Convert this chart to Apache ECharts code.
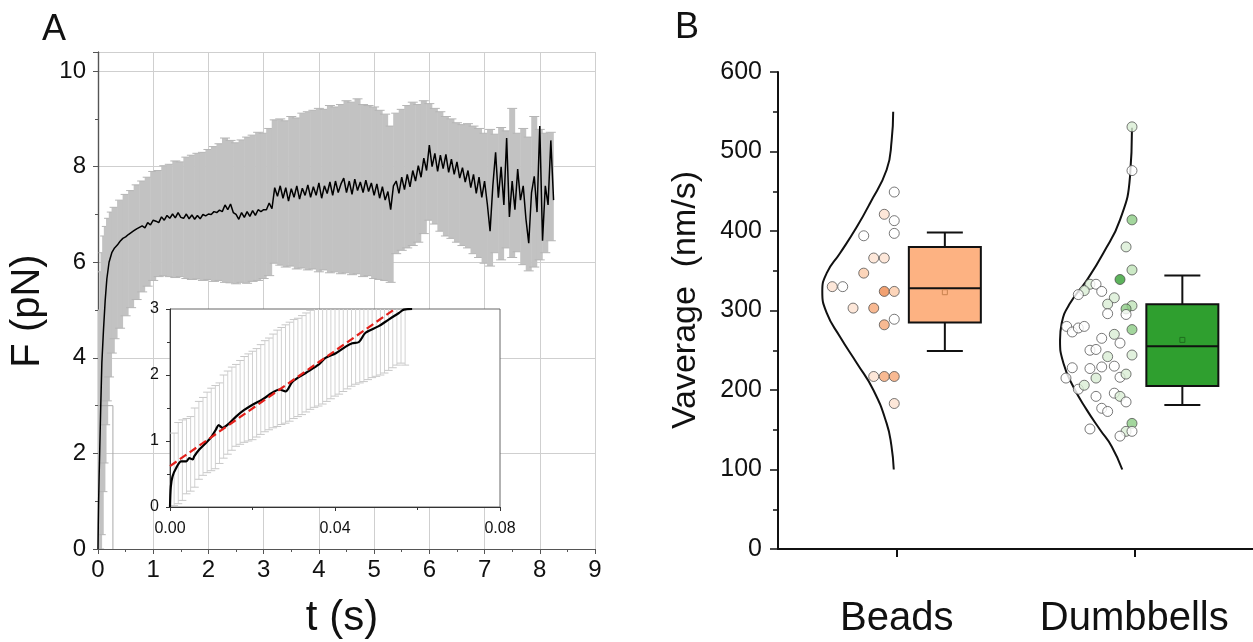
<!DOCTYPE html>
<html>
<head>
<meta charset="utf-8">
<script src="https://cdn.jsdelivr.net/npm/echarts@6.0.0/dist/echarts.min.js"></script>
<style>
  html, body { margin: 0; background: #fff; }
  #chart { width: 1253px; height: 642px; }
</style>
</head>
<body>
<div id="chart"></div>
<script>
// ---- panel A: mean force trace (s, pN) ----
const meanT = [0, 0.005, 0.01, 0.02, 0.03, 0.05, 0.07, 0.1, 0.13, 0.16, 0.2, 0.25,
  0.3, 0.35, 0.4, 0.45, 0.5, 0.55, 0.6, 0.65, 0.7, 0.75,
  0.8, 0.85, 0.9, 0.95, 1.0, 1.05, 1.1, 1.15, 1.2, 1.25,
  1.3, 1.35, 1.4, 1.45, 1.5, 1.55, 1.6, 1.65, 1.7, 1.75,
  1.8, 1.85, 1.9, 1.95, 2.0, 2.05, 2.1, 2.15, 2.2, 2.25,
  2.3, 2.35, 2.4, 2.45, 2.5, 2.55, 2.6, 2.65, 2.7, 2.75,
  2.8, 2.85, 2.9, 2.95, 3.0, 3.05, 3.1, 3.15, 3.2, 3.25,
  3.3, 3.35, 3.4, 3.45, 3.5, 3.55, 3.6, 3.65, 3.7, 3.75,
  3.8, 3.85, 3.9, 3.95, 4.0, 4.05, 4.1, 4.15, 4.2, 4.25,
  4.3, 4.35, 4.4, 4.45, 4.5, 4.55, 4.6, 4.65, 4.7, 4.75,
  4.8, 4.85, 4.9, 4.95, 5.0, 5.05, 5.1, 5.15, 5.2, 5.25,
  5.3, 5.35, 5.4, 5.45, 5.5, 5.55, 5.6, 5.65, 5.7, 5.75,
  5.8, 5.85, 5.9, 5.95, 6.0, 6.05, 6.1, 6.15, 6.2, 6.25,
  6.3, 6.35, 6.4, 6.45, 6.5, 6.55, 6.6, 6.65, 6.7, 6.75,
  6.8, 6.85, 6.9, 6.95, 7.0, 7.05, 7.1, 7.15, 7.2, 7.25,
  7.3, 7.35, 7.4, 7.45, 7.5, 7.55, 7.6, 7.65, 7.7, 7.75,
  7.8, 7.85, 7.9, 7.95, 8.0, 8.05, 8.1, 8.15, 8.2, 8.25]
const meanF = [0, 0.5, 0.9, 1.5, 2.0, 3.0, 3.9, 4.6, 5.2, 5.65, 6.0, 6.2,
  6.30, 6.36, 6.44, 6.50, 6.53, 6.58, 6.62, 6.66, 6.70, 6.73,
  6.76, 6.72, 6.83, 6.78, 6.88, 6.86, 6.83, 6.95, 6.88, 6.98,
  6.92, 7.01, 6.93, 7.04, 6.94, 6.92, 7.01, 6.91, 6.99, 6.90,
  6.98, 6.91, 7.00, 6.97, 7.01, 7.00, 7.06, 7.04, 7.09, 7.06,
  7.20, 7.10, 7.22, 7.04, 7.00, 6.90, 7.04, 6.94, 7.06, 6.96,
  7.08, 6.98, 7.10, 7.06, 7.10, 7.10, 7.24, 7.12, 7.56, 7.38,
  7.60, 7.34, 7.56, 7.28, 7.54, 7.36, 7.60, 7.32, 7.55, 7.40,
  7.62, 7.36, 7.58, 7.40, 7.66, 7.34, 7.60, 7.44, 7.68, 7.40,
  7.70, 7.46, 7.64, 7.76, 7.46, 7.70, 7.42, 7.74, 7.50, 7.68,
  7.46, 7.72, 7.48, 7.66, 7.40, 7.64, 7.34, 7.58, 7.30, 7.48,
  7.10, 7.60, 7.70, 7.44, 7.78, 7.52, 7.84, 7.58, 7.92, 7.70,
  8.02, 7.78, 8.18, 7.92, 8.45, 8.00, 8.28, 7.90, 8.24, 7.96,
  8.26, 7.88, 8.16, 7.84, 8.10, 7.76, 7.98, 7.68, 7.92, 7.56,
  7.84, 7.44, 7.78, 7.36, 7.70, 7.22, 6.65, 7.60, 8.30, 7.35,
  8.00, 7.20, 8.60, 6.95, 7.70, 7.10, 7.95, 7.30, 7.60, 6.90,
  6.40, 7.45, 7.80, 7.05, 8.85, 6.45, 7.60, 7.20, 8.55, 7.30]

// error bar ends (grey band)
const bandT = [0.02, 0.05, 0.08, 0.1, 0.13, 0.16, 0.2, 0.25,
  0.3, 0.4, 0.5, 0.6, 0.7, 0.8, 0.9, 1.0, 1.1, 1.2,
  1.3, 1.4, 1.5, 1.6, 1.7, 1.8, 1.9, 2.0, 2.1, 2.2,
  2.3, 2.4, 2.5, 2.6, 2.7, 2.8, 2.9, 3.0, 3.1, 3.2,
  3.3, 3.4, 3.5, 3.6, 3.7, 3.8, 3.9, 4.0, 4.1, 4.2,
  4.3, 4.4, 4.5, 4.6, 4.7, 4.8, 4.9, 5.0, 5.1, 5.2,
  5.3, 5.4, 5.5, 5.6, 5.7, 5.8, 5.9, 6.0, 6.1, 6.2,
  6.3, 6.4, 6.5, 6.6, 6.7, 6.8, 6.9, 7.0, 7.1, 7.2,
  7.3, 7.4, 7.5, 7.6, 7.7, 7.8, 7.9, 8.0, 8.1, 8.2]
const bandHi = [3.2, 5.0, 5.8, 6.2, 6.55, 6.75, 6.92, 7.05,
  7.15, 7.30, 7.42, 7.50, 7.62, 7.70, 7.78, 7.90, 7.92, 8.02,
  8.05, 8.12, 8.10, 8.20, 8.24, 8.28, 8.30, 8.36, 8.42, 8.48,
  8.60, 8.55, 8.50, 8.56, 8.62, 8.66, 8.72, 8.70, 8.80, 8.98,
  9.00, 8.96, 9.05, 9.02, 9.12, 9.15, 9.18, 9.22, 9.20, 9.28,
  9.25, 9.30, 9.38, 9.35, 9.42, 9.30, 9.28, 9.25, 9.18, 9.10,
  8.85, 9.12, 9.20, 9.28, 9.35, 9.30, 9.38, 9.32, 9.22, 9.15,
  9.05, 9.00, 8.92, 8.88, 8.90, 8.85, 8.80, 8.70, 8.78, 8.68,
  8.82, 8.75, 9.22, 8.70, 8.80, 8.62, 9.05, 8.78, 8.70, 8.72]
const bandLo = [0, 0.3, 1.2, 1.8, 2.6, 3.1, 3.6, 4.1,
  4.40, 4.62, 4.88, 5.05, 5.22, 5.38, 5.50, 5.62, 5.70, 5.72,
  5.70, 5.68, 5.70, 5.66, 5.64, 5.65, 5.62, 5.64, 5.60, 5.62,
  5.58, 5.57, 5.55, 5.58, 5.56, 5.60, 5.62, 5.66, 5.72, 5.98,
  5.94, 5.90, 5.92, 5.86, 5.88, 5.84, 5.86, 5.80, 5.84, 5.78,
  5.80, 5.76, 5.78, 5.74, 5.76, 5.70, 5.72, 5.66, 5.64, 5.62,
  5.58, 6.18, 6.25, 6.30, 6.35, 6.42, 6.60, 6.88, 6.80, 6.65,
  6.55, 6.50, 6.42, 6.35, 6.30, 6.18, 6.10, 5.98, 5.92, 6.20,
  6.05, 6.30, 6.10, 6.22, 5.95, 5.82, 5.90, 6.05, 6.20, 6.45]

// outline of the zoomed region shown in the inset
const zoomBoxT = [0, 0.27, 0.27]
const zoomBoxF = [3, 3, 0]

// ---- inset: first 0.06 s ----
const insetT = [0, 0.0002, 0.0006, 0.0015, 0.0027, 0.0039, 0.0047, 0.0055, 0.0059, 0.0071,
  0.0087, 0.0099, 0.0111, 0.0118, 0.0127, 0.0144, 0.016, 0.018, 0.02, 0.0224,
  0.0248, 0.0265, 0.028, 0.0297, 0.0329, 0.0361, 0.0377, 0.0402, 0.0426, 0.0442,
  0.0458, 0.0474, 0.0506, 0.053, 0.0555, 0.0567, 0.0587]
const insetF = [0, 0.31, 0.46, 0.59, 0.69, 0.69, 0.74, 0.72, 0.77, 0.87,
  0.97, 1.05, 1.17, 1.24, 1.20, 1.27, 1.37, 1.47, 1.55, 1.63,
  1.73, 1.78, 1.75, 1.90, 2.03, 2.16, 2.26, 2.33, 2.43, 2.48,
  2.50, 2.64, 2.74, 2.84, 2.94, 2.99, 3.0]
const fitT = [0, 0.0545]
const fitF = [0.62, 3.0]
const insetBarT = [0.001, 0.002, 0.003, 0.004, 0.005, 0.006, 0.007, 0.008, 0.009, 0.010,
  0.011, 0.012, 0.013, 0.014, 0.015, 0.016, 0.017, 0.018, 0.019, 0.020,
  0.021, 0.022, 0.023, 0.024, 0.025, 0.026, 0.027, 0.028, 0.029, 0.030,
  0.031, 0.032, 0.033, 0.034, 0.035, 0.036, 0.037, 0.038, 0.039, 0.040,
  0.041, 0.042, 0.043, 0.044, 0.045, 0.046, 0.047, 0.048, 0.049, 0.050,
  0.051, 0.052, 0.053, 0.054, 0.055, 0.056, 0.057]
const insetBarHi = [1.12, 1.28, 1.32, 1.34, 1.37, 1.50, 1.60, 1.66, 1.74, 1.80,
  1.84, 1.88, 2.00, 2.06, 2.12, 2.16, 2.22, 2.28, 2.32, 2.36,
  2.40, 2.46, 2.52, 2.56, 2.62, 2.68, 2.72, 2.76, 2.80, 2.84,
  2.86, 2.90, 2.94, 2.98, 3.02, 3.06, 3.10, 3.14, 3.18, 3.22,
  3.26, 3.30, 3.34, 3.38, 3.42, 3.46, 3.50, 3.54, 3.58, 3.62,
  3.66, 3.70, 3.74, 3.78, 3.82, 3.86, 3.84]
const insetBarLo = [0.02, 0.05, 0.10, 0.20, 0.24, 0.30, 0.42, 0.48, 0.52, 0.55,
  0.58, 0.66, 0.74, 0.80, 0.86, 0.92, 0.95, 0.98, 1.00, 1.02,
  1.06, 1.10, 1.14, 1.17, 1.20, 1.22, 1.25, 1.27, 1.30, 1.34,
  1.37, 1.40, 1.44, 1.48, 1.51, 1.53, 1.56, 1.60, 1.64, 1.68,
  1.71, 1.75, 1.79, 1.83, 1.86, 1.88, 1.90, 1.93, 1.96, 1.98,
  2.00, 2.03, 2.07, 2.11, 2.15, 2.18, 2.15]

// ---- panel B: velocities (nm/s) ----
const groups = ['Beads', 'Dumbbells']
const groupPos = [1, 3]
// jittered x position, value, shade level (0 = white .. 4 = darkest)
const beadsX = [0.979, 0.895, 0.979, 0.979, 0.722, 0.806, 0.895, 0.722, 0.457, 0.545,
  0.895, 0.979, 0.632, 0.806, 0.979, 0.895, 0.806, 0.895, 0.979, 0.979]
const beadsV = [449, 421, 413, 397, 394, 366, 366, 347, 330, 330,
  324, 324, 303, 303, 289, 282, 217, 217, 217, 183]
const beadsShade = [0, 1, 0, 0, 0, 1, 1, 2, 1, 0, 4, 2, 1, 3, 0, 3, 1, 3, 3, 1]
const dumbX = [2.981, 2.981, 2.981, 2.931, 2.981, 2.880, 2.627, 2.678, 2.579, 2.529,
  2.726, 2.832, 2.776, 2.981, 2.931, 2.776, 2.931, 2.981, 2.431, 2.478,
  2.529, 2.579, 2.832, 2.726, 2.880, 2.627, 2.678, 2.776, 2.981, 2.478,
  2.627, 2.726, 2.832, 2.425, 2.678, 2.880, 2.931, 2.529, 2.579, 2.678,
  2.832, 2.880, 2.931, 2.726, 2.776, 2.627, 2.981, 2.931, 2.981, 2.880]
const dumbV = [531, 476, 414, 380, 351, 339, 333, 333, 325, 320,
  324, 316, 308, 306, 302, 296, 295, 276, 280, 273,
  278, 280, 270, 265, 259, 250, 251, 242, 244, 228,
  227, 229, 230, 215, 215, 216, 220, 201, 206, 192,
  196, 192, 185, 177, 173, 151, 158, 148, 148, 142]
const dumbShade = [1, 0, 3, 1, 2, 4, 1, 0, 1, 0,
  0, 1, 1, 2, 3, 0, 0, 3, 0, 0,
  0, 0, 1, 0, 0, 0, 0, 1, 1, 0,
  0, 0, 0, 0, 1, 0, 1, 0, 1, 0,
  0, 1, 0, 0, 0, 0, 3, 1, 0, 0]

// normal-distribution outlines (value, x position)
const beadsCurveV = [550, 514, 477, 435, 405, 372, 347, 324, 297, 267, 234, 200, 158, 130, 100]
const beadsCurveX = [0.970, 0.957, 0.915, 0.775, 0.663, 0.522, 0.410, 0.373, 0.410, 0.522, 0.663, 0.803, 0.915, 0.955, 0.975]
const dumbCurveV = [530, 468, 414, 372, 338, 309, 284, 263, 234, 204, 175, 150, 129, 100]
const dumbCurveX = [2.981, 2.964, 2.880, 2.739, 2.600, 2.459, 2.389, 2.375, 2.403, 2.487, 2.600, 2.712, 2.810, 2.899]

// box stats: [whisker low, Q1, median, Q3, whisker high, mean]
const beadsBox = [249, 285, 328, 380, 398, 323]
const dumbBox = [181, 205, 255, 308, 344, 263]
const boxPos = [1.405, 3.405]

const beadsPalette = ['#ffffff', '#fde1cf', '#fbcaa9', '#f6a777', '#ee8a4f']
const dumbPalette = ['#ffffff', '#d9eed4', '#bfe3b8', '#8ccc84', '#35a033']
const boxFill = ['#fdb282', '#2f9f2f']
const boxMeanStroke = ['#c8824f', '#1f6f1f']

const FONT = '"Liberation Sans", Arial, sans-serif'
const chart = echarts.init(document.getElementById('chart'), null, { renderer: 'canvas' })

const zip = (a, b) => a.map((v, i) => [v, b[i]])

const frameAxis = {
  axisLine: { lineStyle: { color: '#555', width: 1.2 } },
  splitLine: { show: false },
}

chart.setOption({
  backgroundColor: '#fff',
  animation: false,
  textStyle: { fontFamily: FONT },
  grid: [
    { left: 98, top: 52, width: 497, height: 497 },
    { left: 170, top: 309, width: 330, height: 198, show: true, z: 10,
      backgroundColor: '#fff', borderColor: '#666', borderWidth: 1 },
    { left: 778, top: 72, width: 475, height: 477 },
  ],
  xAxis: [
    { gridIndex: 0, type: 'value', min: 0, max: 9, interval: 1, ...frameAxis,
      axisTick: { inside: false, length: 5, lineStyle: { color: '#555' } },
      minorTick: { show: true, splitNumber: 2, length: 3, lineStyle: { color: '#555' } },
      splitLine: { show: true, lineStyle: { color: '#cfcfcf', width: 1 } },
      axisLabel: { fontSize: 24, color: '#111', margin: 9, fontFamily: FONT } },
    { gridIndex: 0, type: 'value', position: 'top', min: 0, max: 9, interval: 1, ...frameAxis,
      axisTick: { inside: true, length: 5, lineStyle: { color: '#555' } },
      minorTick: { show: true, splitNumber: 2, length: 3, lineStyle: { color: '#555' } },
      axisLabel: { show: false } },
    { gridIndex: 1, type: 'value', min: 0, max: 0.08, interval: 0.04, z: 11,
      axisLine: { lineStyle: { color: '#333', width: 1 } },
      axisTick: { length: 4, lineStyle: { color: '#333' } },
      minorTick: { show: true, splitNumber: 2, length: 3, lineStyle: { color: '#333' } },
      splitLine: { show: false },
      axisLabel: { fontSize: 16, color: '#111', margin: 14, formatter: v => v.toFixed(2) } },
    { gridIndex: 2, type: 'value', min: 0, max: 4,
      axisLine: { lineStyle: { color: '#111', width: 2 } },
      axisTick: { customValues: groupPos, length: 8, lineStyle: { color: '#111', width: 2 } },
      splitLine: { show: false },
      axisLabel: { customValues: groupPos, fontSize: 40, color: '#111', margin: 50,
        formatter: v => groups[groupPos.indexOf(v)] } },
  ],
  yAxis: [
    { gridIndex: 0, type: 'value', min: 0, max: 10.4, interval: 2, ...frameAxis,
      axisTick: { inside: false, length: 5, lineStyle: { color: '#555' } },
      minorTick: { show: true, splitNumber: 2, length: 3, lineStyle: { color: '#555' } },
      splitLine: { show: true, lineStyle: { color: '#cfcfcf', width: 1 } },
      axisLabel: { fontSize: 24, color: '#111', margin: 12, showMaxLabel: false } },
    { gridIndex: 0, type: 'value', position: 'right', min: 0, max: 10.4, interval: 2, ...frameAxis,
      axisTick: { inside: true, length: 5, lineStyle: { color: '#555' } },
      minorTick: { show: true, splitNumber: 2, length: 3, lineStyle: { color: '#555' } },
      axisLabel: { show: false } },
    { gridIndex: 1, type: 'value', min: 0, max: 3, interval: 1, z: 11,
      axisLine: { lineStyle: { color: '#333', width: 1 } },
      axisTick: { length: 4, lineStyle: { color: '#333' } },
      minorTick: { show: true, splitNumber: 2, length: 3, lineStyle: { color: '#333' } },
      splitLine: { show: false },
      axisLabel: { fontSize: 16, color: '#111', margin: 11 } },
    { gridIndex: 2, type: 'value', min: 0, max: 600, interval: 100,
      axisLine: { show: true, lineStyle: { color: '#111', width: 2 } },
      axisTick: { show: true, length: 8, lineStyle: { color: '#111', width: 1.5 } },
      minorTick: { show: true, splitNumber: 2, length: 5, lineStyle: { color: '#111', width: 1.5 } },
      splitLine: { show: false },
      axisLabel: { fontSize: 25, color: '#111', margin: 16 } },
  ],
  graphic: [
    { type: 'text', left: 42, top: 12, style: { text: 'A', font: '36px ' + FONT, fill: '#111' } },
    { type: 'text', left: 675, top: 10, style: { text: 'B', font: '36px ' + FONT, fill: '#111' } },
    { type: 'text', x: 28, y: 311, rotation: Math.PI / 2,
      style: { text: 'F (pN)', font: '40px ' + FONT, fill: '#111', align: 'center', verticalAlign: 'middle' } },
    { type: 'text', x: 342, y: 618,
      style: { text: 't (s)', font: '42px ' + FONT, fill: '#111', align: 'center', verticalAlign: 'middle' } },
    { type: 'text', x: 686, y: 300, rotation: Math.PI / 2,
      style: { text: 'Vaverage  (nm/s)', font: '34px ' + FONT, fill: '#111', align: 'center', verticalAlign: 'middle' } },
  ],
  series: [
    // grey error bars of the mean trace
    { type: 'custom', xAxisIndex: 0, yAxisIndex: 0, clip: true, z: 2,
      data: bandT.map((t, i) => [t, bandLo[i], bandHi[i]]),
      renderItem: (params, api) => {
        const lo = api.coord([api.value(0), api.value(1)])
        const hi = api.coord([api.value(0), api.value(2)])
        const x = lo[0]
        return { type: 'group', children: [
          { type: 'rect', shape: { x: x - 3, y: hi[1], width: 6, height: lo[1] - hi[1] },
            style: { fill: '#c2c2c2' } },
          { type: 'line', shape: { x1: x - 5, y1: hi[1], x2: x + 5, y2: hi[1] },
            style: { stroke: '#b5b5b5', lineWidth: 1 } },
          { type: 'line', shape: { x1: x - 5, y1: lo[1], x2: x + 5, y2: lo[1] },
            style: { stroke: '#b5b5b5', lineWidth: 1 } },
        ] }
      } },
    { type: 'line', xAxisIndex: 0, yAxisIndex: 0, data: zip(zoomBoxT, zoomBoxF), z: 2,
      showSymbol: false, lineStyle: { color: '#aaa', width: 1 } },
    { type: 'line', xAxisIndex: 0, yAxisIndex: 0, data: zip(meanT, meanF), z: 3,
      showSymbol: false, lineStyle: { color: '#000', width: 1.5 } },

    // inset
    { type: 'custom', xAxisIndex: 2, yAxisIndex: 2, clip: true, z: 12,
      data: insetBarT.map((t, i) => [t, insetBarLo[i], insetBarHi[i]]),
      renderItem: (params, api) => {
        const lo = api.coord([api.value(0), api.value(1)])
        const hi = api.coord([api.value(0), api.value(2)])
        const x = lo[0]
        return { type: 'group', children: [
          { type: 'line', shape: { x1: x, y1: hi[1], x2: x, y2: lo[1] }, style: { stroke: '#d2d2d2', lineWidth: 1 } },
          { type: 'line', shape: { x1: x - 4, y1: hi[1], x2: x + 4, y2: hi[1] }, style: { stroke: '#c8c8c8', lineWidth: 1 } },
          { type: 'line', shape: { x1: x - 4, y1: lo[1], x2: x + 4, y2: lo[1] }, style: { stroke: '#c8c8c8', lineWidth: 1 } },
        ] }
      } },
    { type: 'line', xAxisIndex: 2, yAxisIndex: 2, data: zip(insetT, insetF), z: 13, clip: true,
      showSymbol: false, smooth: 0.3, lineStyle: { color: '#000', width: 2.2 } },
    { type: 'line', xAxisIndex: 2, yAxisIndex: 2, data: zip(fitT, fitF), z: 14, clip: true,
      showSymbol: false, lineStyle: { color: '#e3201b', width: 2.2, type: [8, 4] } },

    // panel B
    { type: 'line', xAxisIndex: 3, yAxisIndex: 3, data: zip(beadsCurveX, beadsCurveV), smooth: true,
      showSymbol: false, lineStyle: { color: '#111', width: 2 } },
    { type: 'line', xAxisIndex: 3, yAxisIndex: 3, data: zip(dumbCurveX, dumbCurveV), smooth: true,
      showSymbol: false, lineStyle: { color: '#111', width: 2 } },
    { type: 'scatter', xAxisIndex: 3, yAxisIndex: 3, symbolSize: 10, z: 4,
      data: beadsX.map((x, i) => ({ value: [x, beadsV[i]],
        itemStyle: { color: beadsPalette[beadsShade[i]], borderColor: '#444', borderWidth: 0.9 } })) },
    { type: 'scatter', xAxisIndex: 3, yAxisIndex: 3, symbolSize: 10, z: 4,
      data: dumbX.map((x, i) => ({ value: [x, dumbV[i]],
        itemStyle: { color: dumbPalette[dumbShade[i]], borderColor: '#444', borderWidth: 0.9 } })) },
    { type: 'custom', xAxisIndex: 3, yAxisIndex: 3, z: 3,
      data: [[boxPos[0], ...beadsBox, 0], [boxPos[1], ...dumbBox, 1]],
      renderItem: (params, api) => {
        const cx = api.value(0)
        const p = k => api.coord([cx, api.value(k)])
        const wLo = p(1), q1 = p(2), med = p(3), q3 = p(4), wHi = p(5), mean = p(6)
        const k = api.value(7)
        const x = wLo[0], hw = 36, cw = 18
        const ln = (x1, y1, x2, y2) => ({ type: 'line', shape: { x1, y1, x2, y2 },
          style: { stroke: '#111', lineWidth: 2 } })
        return { type: 'group', children: [
          ln(x, wHi[1], x, q3[1]), ln(x, q1[1], x, wLo[1]),
          ln(x - cw, wHi[1], x + cw, wHi[1]), ln(x - cw, wLo[1], x + cw, wLo[1]),
          { type: 'rect', shape: { x: x - hw, y: q3[1], width: 2 * hw, height: q1[1] - q3[1] },
            style: { fill: boxFill[k], stroke: '#111', lineWidth: 2 } },
          ln(x - hw, med[1], x + hw, med[1]),
          { type: 'rect', shape: { x: x - 2.5, y: mean[1] - 2.5, width: 5, height: 5 },
            style: { fill: 'none', stroke: boxMeanStroke[k], lineWidth: 1 } },
        ] }
      } },
  ],
})
</script>
</body>
</html>
